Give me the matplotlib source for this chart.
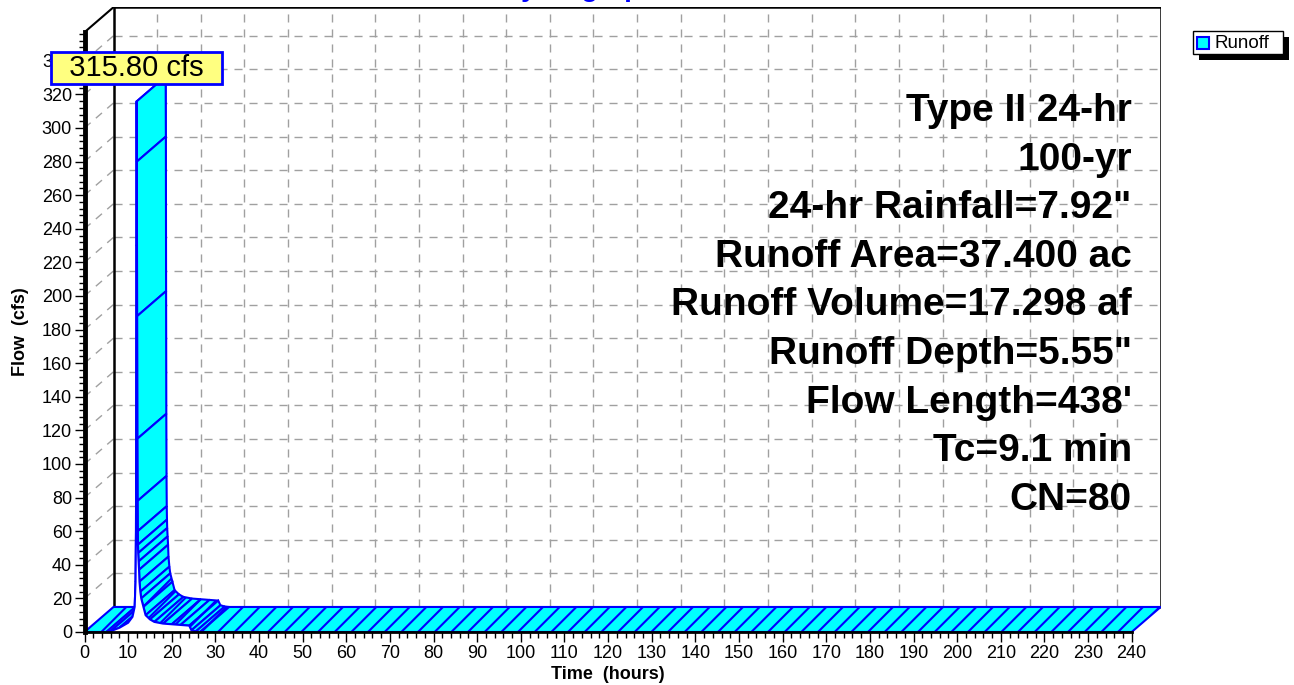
import numpy as np
import matplotlib.pyplot as plt
from matplotlib.patches import Polygon, Rectangle

plt.rcParams['font.family'] = ['Liberation Sans', 'DejaVu Sans']
plt.rcParams['hatch.color'] = 'blue'
plt.rcParams['hatch.linewidth'] = 1.5

# runoff hydrograph
time_hr = [0, 5, 6, 8, 10, 11, 11.5, 11.7, 11.8, 11.85, 11.9, 11.95, 12.0, 12.05,
           12.1, 12.15, 12.2, 12.25, 12.3, 12.4, 12.5, 12.6, 12.8, 13.0, 13.5, 14.0,
           15.0, 16.0, 18.0, 20.0, 22.0, 24.0, 24.5, 25.5, 26.5, 240]
flow_cfs = [0, 0, 0.5, 2.5, 5.5, 9, 15, 30, 60, 120, 230, 315.8, 280, 188,
            115, 78, 60, 52, 47, 42, 37, 30, 24, 20, 15, 10,
            7.5, 6, 5, 4.6, 4.2, 3.8, 1.0, 0.3, 0, 0]

info_lines = ['Type II 24-hr', '100-yr', '24-hr Rainfall=7.92"',
              'Runoff Area=37.400 ac', 'Runoff Volume=17.298 af',
              'Runoff Depth=5.55"', "Flow Length=438'", 'Tc=9.1 min', 'CN=80']

x_ticks = list(range(0, 241, 10))
y_ticks = list(range(0, 341, 20))

# 3d look: depth offset of the back wall
DT = 6.65    # hours
DQ = 14.9    # cfs
Y_TOP = 357
X_END = 240

W, H = 1294, 685
fig = plt.figure(figsize=(W / 100, H / 100), dpi=100)
ax = fig.add_axes([84.5 / W, 53 / H, (1160.7 - 84.5) / W, (632 - 7.2) / H])
ax.set_xlim(0, X_END + DT)
ax.set_ylim(0, Y_TOP + DQ)

grid_kw = dict(color='#a0a0a0', lw=1.0, ls=(0, (5.8, 5)), zorder=1)
for t in x_ticks[1:-1]:
    ax.plot([t + DT, t + DT], [DQ, Y_TOP + DQ], **grid_kw)
for q in y_ticks[1:]:
    ax.plot([DT, X_END + DT], [q + DQ, q + DQ], **grid_kw)
    ax.plot([0, DT], [q, q + DQ], **grid_kw)

# back wall frame
ax.plot([DT, DT, X_END + DT, X_END + DT], [DQ, Y_TOP + DQ, Y_TOP + DQ, DQ],
        color='black', lw=1.8, zorder=2)
ax.plot([0, DT], [Y_TOP, Y_TOP + DQ], color='black', lw=1.5, zorder=2)

# ribbon surface, one face per step
for i in range(len(time_hr) - 1):
    t1, t2 = time_hr[i], time_hr[i + 1]
    q1, q2 = flow_cfs[i], flow_cfs[i + 1]
    verts = [(t1, q1), (t2, q2), (t2 + DT, q2 + DQ), (t1 + DT, q1 + DQ)]
    hatch = '//' if t2 - t1 >= 0.5 else None
    ax.add_patch(Polygon(verts, closed=True, facecolor='cyan', edgecolor='blue',
                         lw=1.5, hatch=hatch, zorder=3))

# front face
front = list(zip(time_hr, flow_cfs)) + [(X_END, 0), (0, 0)]
ax.add_patch(Polygon(front, closed=True, facecolor='white', edgecolor='none', zorder=4))
ax.plot(time_hr, flow_cfs, color='blue', lw=1.5, zorder=4.5)

for s in ['top', 'right']:
    ax.spines[s].set_visible(False)
ax.spines['left'].set_bounds(0, Y_TOP)
ax.spines['left'].set_linewidth(3.5)
ax.spines['bottom'].set_bounds(0, X_END)
ax.spines['bottom'].set_linewidth(2)
ax.spines['left'].set_zorder(6)
ax.spines['bottom'].set_zorder(6)

ax.set_xticks(x_ticks)
ax.set_xticks(np.arange(0, 241, 2), minor=True)
ax.set_yticks(y_ticks)
ax.set_yticks(np.arange(0, 357, 4), minor=True)
ax.tick_params(which='major', direction='out', length=7, width=1, labelsize=13, pad=2)
ax.tick_params(which='minor', direction='out', length=4, width=1)

ax.set_xlabel('Time  (hours)', fontsize=13, fontweight='bold')
ax.xaxis.set_label_coords(120 / (X_END + DT), -0.054)
ax.set_ylabel('Flow  (cfs)', fontsize=13, fontweight='bold')
ax.yaxis.set_label_coords(-0.052, (Y_TOP / 2) / (Y_TOP + DQ))

# peak label
ipk = int(np.argmax(flow_cfs))
ax.annotate('  %.2f cfs  ' % flow_cfs[ipk], xy=(time_hr[ipk], flow_cfs[ipk]),
            xytext=(0, 24), textcoords='offset points', ha='center', va='center',
            fontsize=21, zorder=10, annotation_clip=False,
            bbox=dict(boxstyle='square,pad=0.06', fc='#ffff80', ec='blue', lw=2))

# storm info
for i, s in enumerate(info_lines):
    ax.text(X_END, (632 - 121 - i * 48.6) / 1.68, s, ha='right', va='baseline',
            fontsize=28, fontweight='bold', zorder=8)

fig.text(0.448, 1 + 4 / H, 'Hydrograph', color='blue', fontsize=20,
         fontweight='bold', ha='center', va='baseline')

# legend box with a hard shadow
fig.patches.append(Rectangle((1199 / W, 1 - 60 / H), 90 / W, 23 / H,
                             transform=fig.transFigure, fc='black', ec='none'))
fig.patches.append(Rectangle((1193 / W, 1 - 54 / H), 90 / W, 23 / H,
                             transform=fig.transFigure, fc='white', ec='black', lw=1))
fig.patches.append(Rectangle((1197 / W, 1 - 49 / H), 12 / W, 12 / H,
                             transform=fig.transFigure, fc='cyan', ec='blue', lw=1.5))
fig.text(1214 / W, 1 - 43 / H, 'Runoff', va='center', ha='left', fontsize=13.5)

fig.savefig('out.png', dpi=100)
